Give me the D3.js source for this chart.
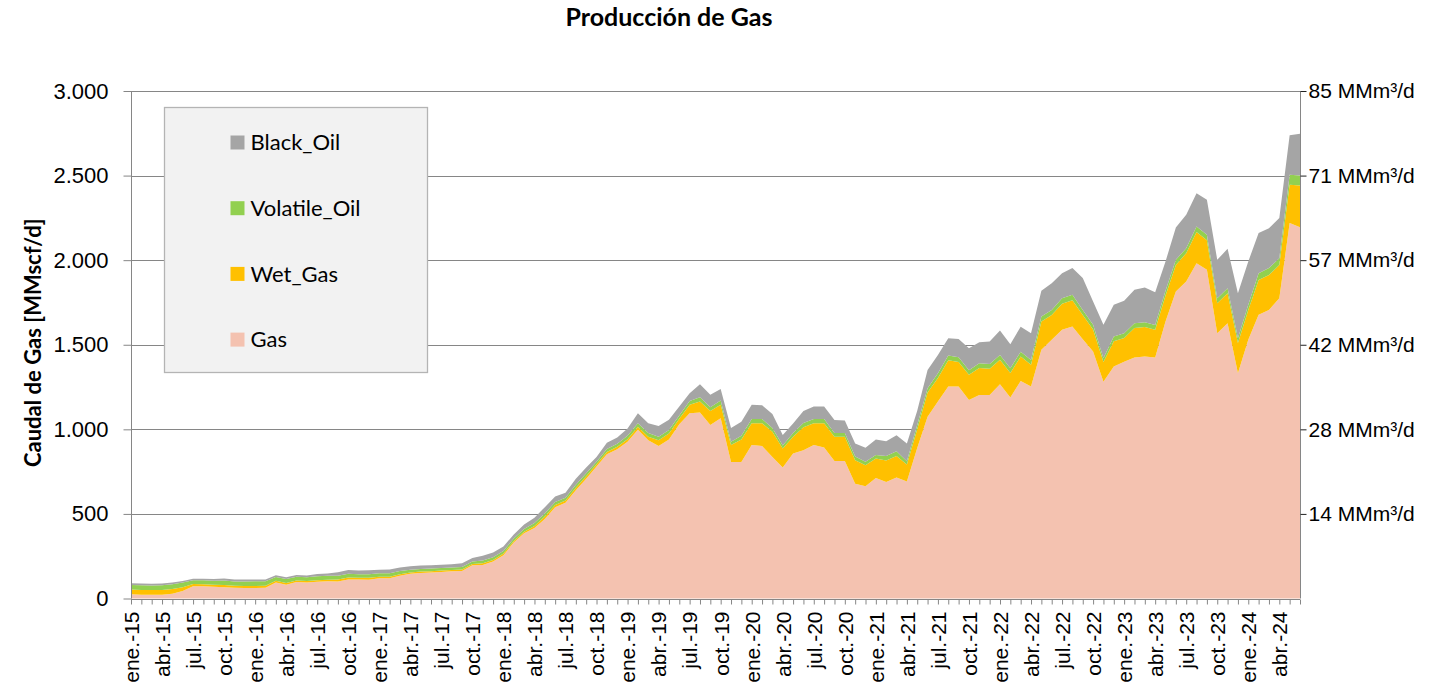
<!DOCTYPE html>
<html>
<head>
<meta charset="utf-8">
<script src="https://cdn.jsdelivr.net/npm/d3@7"></script>
<style>
  body { margin: 0; background: #fff; }
  svg { display: block; font-family: Lato, "Open Sans", sans-serif; }
  .axis path, .axis line { stroke: #868686; }
  .grid line { stroke: #868686; stroke-width: 1; }
</style>
</head>
<body>
<div id="chart"></div>
<script>
// months / years used for the category labels
const monthNames = ['ene.', 'feb.', 'mar.', 'abr.', 'may.', 'jun.', 'jul.', 'ago.', 'sep.', 'oct.', 'nov.', 'dic.'];
const years = ['15', '16', '17', '18', '19', '20', '21', '22', '23', '24'];
const nMonths = 114; // ene.-15 .. jun.-24

const seriesKeys = ['Gas', 'Wet_Gas', 'Volatile_Oil', 'Black_Oil'];
const seriesColors = ['#f4c2b0', '#ffc000', '#92d050', '#a5a5a5'];

// MMscf/d
const gas = [25, 22, 22, 22, 28, 45, 72, 72, 69, 67, 63, 62,
  62, 63, 95, 81, 97, 95, 99, 102, 100, 113, 113, 111,
  119, 119, 135, 146, 151, 153, 157, 161, 163, 196, 198, 218,
  256, 331, 385, 417, 470, 539, 566, 640, 708, 781, 852, 882,
  926, 998, 936, 901, 940, 1030, 1095, 1099, 1026, 1065, 807, 807,
  907, 901, 837, 774, 857, 877, 907, 893, 813, 813, 679, 663,
  712, 688, 716, 692, 890, 1075, 1164, 1253, 1253, 1174, 1203, 1203,
  1266, 1188, 1286, 1253, 1470, 1529, 1588, 1608, 1533, 1460, 1282, 1371,
  1400, 1424, 1430, 1424, 1637, 1815, 1874, 1982, 1943, 1568, 1627, 1331,
  1529, 1677, 1706, 1775, 2219, 2195];

const wetGas = [28, 28, 28, 28, 28, 22, 14, 12, 12, 13, 12, 12,
  12, 12, 10, 10, 9, 9, 9, 9, 12, 11, 10, 11,
  10, 10, 9, 8, 8, 8, 8, 8, 8, 8, 10, 10,
  10, 9, 10, 12, 14, 14, 13, 14, 14, 12, 14, 15,
  16, 18, 20, 35, 36, 32, 50, 65, 83, 80, 100, 133,
  129, 135, 149, 113, 99, 135, 129, 143, 143, 143, 138, 124,
  115, 128, 127, 100, 110, 143, 139, 155, 145, 148, 159, 155,
  146, 145, 145, 129, 167, 147, 155, 155, 143, 130, 116, 150,
  140, 175, 175, 165, 154, 157, 167, 185, 175, 177, 177, 179,
  177, 206, 207, 197, 227, 247];

const volatileOil = [27, 28, 27, 28, 28, 27, 22, 24, 24, 27, 26, 27,
  28, 27, 22, 24, 22, 21, 24, 24, 22, 22, 21, 22,
  20, 21, 18, 16, 16, 16, 15, 14, 15, 14, 16, 16,
  15, 14, 16, 17, 18, 18, 17, 18, 18, 16, 18, 18,
  20, 20, 22, 20, 20, 20, 22, 25, 22, 25, 20, 22,
  25, 25, 22, 18, 22, 25, 25, 25, 22, 22, 22, 22,
  22, 27, 27, 20, 25, 25, 28, 28, 28, 28, 28, 28,
  28, 28, 28, 28, 30, 30, 32, 32, 30, 28, 22, 28,
  28, 28, 28, 28, 28, 30, 30, 32, 32, 30, 30, 28,
  30, 40, 40, 40, 59, 59];

const blackOil = [10, 10, 10, 10, 10, 10, 9, 9, 10, 11, 11, 11,
  11, 11, 11, 11, 11, 11, 13, 13, 21, 22, 21, 23,
  21, 22, 21, 20, 20, 20, 20, 20, 22, 22, 28, 28,
  27, 24, 27, 32, 38, 32, 29, 36, 34, 28, 36, 37,
  43, 59, 58, 64, 60, 53, 47, 77, 73, 68, 81, 83,
  84, 82, 83, 61, 56, 72, 74, 74, 77, 74, 77, 82,
  91, 87, 95, 104, 85, 108, 109, 102, 108, 129, 125, 133,
  144, 142, 148, 158, 152, 158, 148, 158, 188, 138, 198, 187,
  192, 198, 205, 194, 173, 191, 197, 197, 207, 227, 233, 267,
  256, 237, 236, 237, 233, 247];

const yTicks = [0, 500, 1000, 1500, 2000, 2500, 3000];
const rightTicks = [500, 1000, 1500, 2000, 2500, 3000];
const MMSCF_TO_MMM3 = 0.0283168;

const categories = d3.range(nMonths).map(i => `${monthNames[i % 12]}-${years[Math.floor(i / 12)]}`);
const rows = categories.map((c, i) => ({
  cat: c,
  Gas: gas[i],
  Wet_Gas: wetGas[i],
  Volatile_Oil: volatileOil[i],
  Black_Oil: blackOil[i]
}));

// dimension stuff
const width = 1440;
const height = 690;
const marginLeft = 131;
const marginRight = 140;
const marginTop = 91;
const plotBottom = 598.5;

const svg = d3.select('#chart').append('svg')
  .attr('width', width)
  .attr('height', height);

const x = d3.scaleLinear()
  .domain([0, nMonths - 1])
  .range([marginLeft, width - marginRight]);

const y = d3.scaleLinear()
  .domain([0, 3000])
  .range([plotBottom, marginTop]);

// gridlines (behind the areas)
svg.append('g')
  .attr('class', 'grid')
  .selectAll('line')
  .data(yTicks.filter(d => d > 0))
  .join('line')
  .attr('x1', x(0))
  .attr('x2', x(nMonths - 1))
  .attr('y1', d => Math.round(y(d)) + 0.5)
  .attr('y2', d => Math.round(y(d)) + 0.5);

// stacked areas
const stack = d3.stack().keys(seriesKeys);
const stacked = stack(rows);

const area = d3.area()
  .x((d, i) => x(i))
  .y0(d => y(d[0]))
  .y1(d => y(d[1]));

svg.append('g')
  .selectAll('path')
  .data(stacked)
  .join('path')
  .attr('d', area)
  .attr('fill', (d, i) => seriesColors[i]);

// x axis
const xAxis = d3.axisBottom(x)
  .tickValues(d3.range(nMonths))
  .tickSize(5)
  .tickFormat(i => (i % 3 === 0 ? categories[i] : ''));

const gx = svg.append('g')
  .attr('class', 'axis')
  .attr('transform', `translate(0, ${Math.round(plotBottom) + 0.5})`)
  .call(xAxis);
gx.select('.domain').attr('d', `M${x(0)},0H${x(nMonths - 1)}`);
gx.selectAll('text')
  .attr('transform', 'rotate(-90)')
  .attr('x', -12)
  .attr('y', 0)
  .attr('dy', '0.35em')
  .style('text-anchor', 'end')
  .style('font-size', '21px')
  .style('fill', '#000');

// left axis
const gy = svg.append('g')
  .attr('class', 'axis')
  .attr('transform', `translate(${x(0) + 0.5}, 0)`)
  .call(d3.axisLeft(y)
    .tickValues(yTicks)
    .tickSize(8)
    .tickPadding(15)
    .tickFormat(d => d3.format(',')(d).replace(/,/g, '.')));
gy.select('.domain').attr('d', `M0,${y(3000)}V${y(0)}`);
gy.selectAll('text').style('font-size', '22px').style('fill', '#000');

// right axis (MMm3/d)
const gr = svg.append('g')
  .attr('class', 'axis right')
  .attr('transform', `translate(${x(nMonths - 1) + 0.5}, 0)`)
  .call(d3.axisRight(y)
    .tickValues(rightTicks)
    .tickSize(6)
    .tickPadding(2)
    .tickFormat(d => `${Math.round(d * MMSCF_TO_MMM3)} MMm³/d`));
gr.select('.domain').attr('d', `M0,${y(3000)}V${y(0)}`);
gr.selectAll('.tick line').style('stroke', '#222');
gr.selectAll('text').style('font-size', '21px').style('fill', '#000');

// titles
svg.append('text')
  .attr('x', 669)
  .attr('y', 26)
  .attr('text-anchor', 'middle')
  .style('font-weight', 'bold')
  .style('font-size', '25px')
  .text('Producción de Gas');

svg.append('text')
  .attr('transform', `translate(41, ${(y(0) + y(3000)) / 2 - 2}) rotate(-90)`)
  .attr('text-anchor', 'middle')
  .style('font-weight', 'bold')
  .style('font-size', '22px')
  .text('Caudal de Gas [MMscf/d]');

// legend
const legend = svg.append('g').attr('transform', 'translate(164.5, 107.5)');
legend.append('rect')
  .attr('width', 263)
  .attr('height', 265)
  .attr('fill', '#f2f2f2')
  .attr('stroke', '#b4b4b4')
  .attr('stroke-width', 1.3);

const legendItems = seriesKeys.slice().reverse();
const item = legend.selectAll('.legend-item')
  .data(legendItems)
  .join('g')
  .attr('class', 'legend-item')
  .attr('transform', (d, i) => `translate(66, ${35 + i * 65.7})`);

item.append('rect')
  .attr('y', -7)
  .attr('width', 14)
  .attr('height', 14)
  .attr('fill', d => seriesColors[seriesKeys.indexOf(d)]);

item.append('text')
  .attr('x', 20)
  .attr('dy', '0.35em')
  .style('font-size', '22px')
  .text(d => d);
</script>
</body>
</html>
